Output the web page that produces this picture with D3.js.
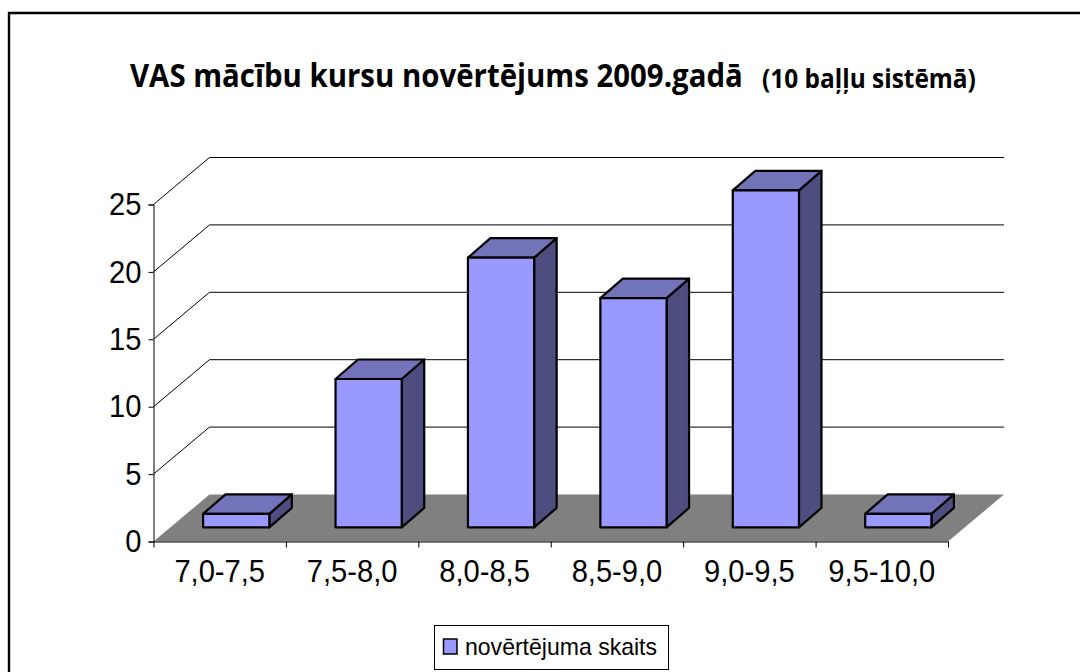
<!DOCTYPE html>
<html>
<head>
<meta charset="utf-8">
<script src="https://cdn.jsdelivr.net/npm/d3@7"></script>
<style>
  html, body { margin: 0; padding: 0; background: #fff; }
  svg { display: block; }
  text { font-family: "Liberation Sans", Arial, sans-serif; fill: #000; }
  .domain, .tick line { stroke: #000; }
</style>
</head>
<body>
<div id="chart"></div>
<script>
var titleMain = "VAS mācību kursu novērtējums 2009.gadā";
var titleSub = "(10 baļļu sistēmā)";
var categories = ["7,0-7,5", "7,5-8,0", "8,0-8,5", "8,5-9,0", "9,0-9,5", "9,5-10,0"];
var values = [1, 11, 20, 17, 25, 1];
var yTicks = [0, 5, 10, 15, 20, 25];
var legendLabel = "novērtējuma skaits";

function BarChart3d(){
    var w = 1080;
    var h = 672;

    // depth of the floor, and of each column
    var floorDx = 56, floorDy = -47;
    var barDx = 22.5, barDy = -19.5;
    var barOffX = 16.5, barOffY = -14.2;

    var svg = d3.select("#chart")
                .append("svg")
                .attr("width", w)
                .attr("height", h);

    var Xscale = d3.scaleBand()
                .domain(categories)
                .range([153.5, 948])
                .paddingInner(0.5)
                .paddingOuter(0.25);

    var Xticks = d3.scaleLinear()
                .domain([0, categories.length])
                .range([153.5, 948]);

    var Yscale = d3.scaleLinear()
                .domain([0, 25])
                .range([541.5, 204.5]);

    // the labels in the reference are tall and narrow
    function squeeze(sel, k){
        sel.each(function(){
            var len = this.getComputedTextLength();
            d3.select(this)
                .attr("textLength", len * k)
                .attr("lengthAdjust", "spacingAndGlyphs");
        });
    }

    // title text squeezed to a given pixel width
    function fitText(label, x, y, width, size){
        var t = svg.append("text")
            .text(label)
            .style("font-family", "'Open Sans'")
            .style("font-weight", 700)
            .style("font-size", size + "px");
        var k = width / t.node().getComputedTextLength();
        t.attr("transform", "translate(" + x + "," + y + ") scale(" + k + ",1)");
    }

    // outer frame of the picture (only top and left are visible)
    svg.append("path")
        .attr("d", "M9,672V13H1080")
        .attr("fill", "none")
        .attr("stroke", "#000")
        .attr("stroke-width", 2.4);

    // floor
    var x0 = Xticks(0), x1 = Xticks(categories.length), y0 = Yscale(0);
    svg.append("path")
        .attr("d", "M" + x0 + "," + y0 + "L" + x1 + "," + y0 +
                   "L" + (x1 + floorDx) + "," + (y0 + floorDy) +
                   "L" + (x0 + floorDx) + "," + (y0 + floorDy) + "Z")
        .attr("fill", "#808080");

    // gridlines, side wall and back wall
    svg.selectAll(".grid")
        .data(yTicks.slice(1))
        .enter()
        .append("path")
        .attr("class", "grid")
        .attr("fill", "none")
        .attr("stroke", "#000")
        .attr("d", function(d){
            var y = Yscale(d);
            return "M" + x0 + "," + y +
                   "L" + (x0 + floorDx) + "," + (y + floorDy) +
                   "H" + (x1 + floorDx);
        });

    // axes
    var yAxis = d3.axisLeft(Yscale)
                    .tickValues(yTicks)
                    .tickSize(5)
                    .tickPadding(7);

    var yG = svg.append("g")
        .attr("transform", "translate(" + x0 + ",0)")
        .call(yAxis);
    yG.selectAll("text")
        .style("font-size", "32px")
        .style("font-family", "Liberation Sans")
        .call(squeeze, 0.91);

    var xTickAxis = d3.axisBottom(Xticks)
                    .tickValues(d3.range(categories.length + 1))
                    .tickFormat("")
                    .tickSize(6)
                    .tickSizeOuter(0);

    svg.append("g")
        .attr("transform", "translate(0," + y0 + ")")
        .call(xTickAxis);

    var xAxis = d3.axisBottom(Xscale)
                    .tickSize(0)
                    .tickPadding(18);

    var xG = svg.append("g")
        .attr("transform", "translate(0," + y0 + ")")
        .call(xAxis);
    xG.select(".domain").remove();
    xG.selectAll("text")
        .style("font-size", "32px")
        .style("font-family", "Liberation Sans")
        .call(squeeze, 0.91);

    // columns: front, top and side faces
    var bars = svg.selectAll(".bar")
        .data(values)
        .enter()
        .append("g")
        .attr("class", "bar")
        .attr("stroke", "#000")
        .attr("stroke-width", 2.2)
        .attr("stroke-linejoin", "round");

    var left = function(d,i){ return Xscale(categories[i]) + barOffX; };
    var right = function(d,i){ return left(d,i) + Xscale.bandwidth(); };
    var top = function(d){ return Yscale(d) + barOffY; };
    var base = y0 + barOffY;

    bars.append("path")
        .attr("fill", "#4d4d80")
        .attr("d", function(d,i){
            var r = right(d,i);
            return "M" + r + "," + base + "V" + top(d) +
                   "L" + (r + barDx) + "," + (top(d) + barDy) +
                   "V" + (base + barDy) + "Z";
        });

    bars.append("path")
        .attr("fill", "#7373b9")
        .attr("d", function(d,i){
            var l = left(d,i), r = right(d,i);
            return "M" + l + "," + top(d) + "L" + (l + barDx) + "," + (top(d) + barDy) +
                   "H" + (r + barDx) + "L" + r + "," + top(d) + "Z";
        });

    bars.append("rect")
        .attr("fill", "#9999ff")
        .attr("x", left)
        .attr("y", top)
        .attr("width", Xscale.bandwidth())
        .attr("height", function(d){ return base - top(d); });

    // title
    fitText(titleMain, 130, 87, 613, 32);
    fitText(titleSub, 762, 88, 214, 26);

    // legend
    svg.append("rect")
        .attr("x", 434.5)
        .attr("y", 625.5)
        .attr("width", 234)
        .attr("height", 44)
        .attr("fill", "#fff")
        .attr("stroke", "#000");

    svg.append("rect")
        .attr("x", 443.5)
        .attr("y", 639)
        .attr("width", 13.5)
        .attr("height", 15)
        .attr("fill", "#9999ff")
        .attr("stroke", "#000")
        .attr("stroke-width", 1.5);

    svg.append("text")
        .text(legendLabel)
        .attr("x", 465)
        .attr("y", 655)
        .attr("textLength", 192)
        .attr("lengthAdjust", "spacingAndGlyphs")
        .style("font-size", "24px");
}

window.onload = BarChart3d();
</script>
</body>
</html>
